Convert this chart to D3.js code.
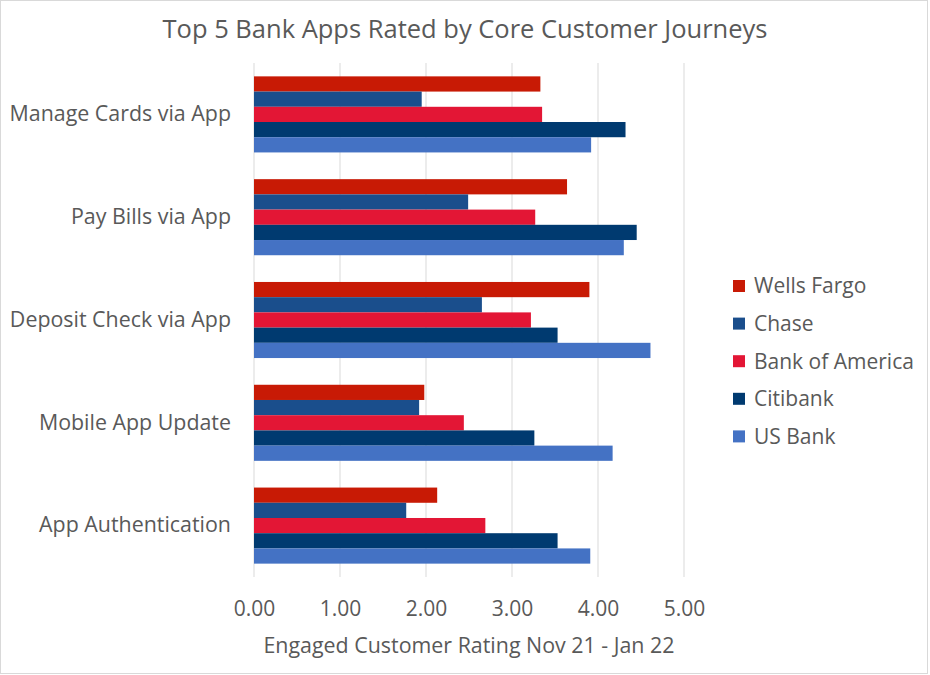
<!DOCTYPE html>
<html>
<head>
<meta charset="utf-8">
<script src="https://cdn.jsdelivr.net/npm/d3@7"></script>
<style>
  body { margin: 0; background: #fff; }
  text { font-family: "Open Sans", sans-serif; fill: #595959; }
</style>
</head>
<body>
<div id="chart"></div>
<script>
// categories top to bottom
var categories = ["Manage Cards via App", "Pay Bills via App", "Deposit Check via App", "Mobile App Update", "App Authentication"];
var seriesNames = ["Wells Fargo", "Chase", "Bank of America", "Citibank", "US Bank"];
var seriesColors = ["#C81A05", "#1A4E8C", "#E31635", "#003A70", "#4472C4"];

// values per category, in same order as categories
var wellsFargo    = [3.33, 3.64, 3.90, 1.98, 2.13];
var chase         = [1.95, 2.49, 2.65, 1.92, 1.77];
var bankOfAmerica = [3.35, 3.27, 3.22, 2.44, 2.69];
var citibank      = [4.32, 4.45, 3.53, 3.26, 3.53];
var usBank        = [3.92, 4.30, 4.61, 4.17, 3.91];

var tickValues = [0, 1, 2, 3, 4, 5];
var xTitle = "Engaged Customer Rating Nov 21 - Jan 22";
var chartTitle = "Top 5 Bank Apps Rated by Core Customer Journeys";

var allSeries = [wellsFargo, chase, bankOfAmerica, citibank, usBank];

var svgWidth = 930, svgHeight = 675;
var margin = {top: 63, left: 254, right: 246, bottom: 98};
var width = svgWidth - margin.left - margin.right;
var height = svgHeight - margin.top - margin.bottom;

var svg = d3.select("#chart").append("svg")
  .attr("width", svgWidth)
  .attr("height", svgHeight);

// outer frame
svg.append("rect")
  .attr("x", 0.5).attr("y", 0.5)
  .attr("width", svgWidth - 3).attr("height", svgHeight - 2)
  .attr("fill", "none").attr("stroke", "#d9d9d9");

var g = svg.append("g").attr("transform", "translate(" + margin.left + "," + margin.top + ")");

var xScale = d3.scaleLinear().domain([0, 5]).range([0, width]);
var yScale = d3.scaleBand().domain(categories).range([0, height]).paddingInner(0.26).paddingOuter(0.13);
var ySub = d3.scaleBand().domain(seriesNames).range([0, yScale.bandwidth()]);

// gridlines
g.selectAll(".grid")
  .data(tickValues)
  .enter().append("line")
  .attr("x1", function(d) { return xScale(d); })
  .attr("x2", function(d) { return xScale(d); })
  .attr("y1", 0).attr("y2", height)
  .attr("stroke", "#d9d9d9").attr("stroke-width", 1);

// bars
categories.forEach(function(cat, ci) {
  seriesNames.forEach(function(s, si) {
    g.append("rect")
      .attr("x", xScale(0))
      .attr("y", yScale(cat) + ySub(s))
      .attr("width", xScale(allSeries[si][ci]) - xScale(0))
      .attr("height", ySub.bandwidth())
      .attr("fill", seriesColors[si]);
  });
});

// x axis labels
var xAxis = g.append("g")
  .attr("transform", "translate(0," + height + ")")
  .call(d3.axisBottom(xScale).tickValues(tickValues).tickFormat(d3.format(".2f")).tickSize(0).tickPadding(24));
xAxis.select(".domain").remove();
xAxis.selectAll("text").style("font-size", "21px").style("font-family", "Open Sans, sans-serif").attr("fill", "#595959");

// y axis labels
var yAxis = g.append("g")
  .call(d3.axisLeft(yScale).tickSize(0).tickPadding(23));
yAxis.select(".domain").remove();
yAxis.selectAll("text").style("font-size", "21.4px").style("font-family", "Open Sans, sans-serif").attr("fill", "#595959");

// axis title
svg.append("text")
  .attr("x", margin.left + width / 2)
  .attr("y", 653)
  .attr("text-anchor", "middle")
  .style("font-size", "21.4px")
  .text(xTitle);

// chart title
svg.append("text")
  .attr("x", 465)
  .attr("y", 38)
  .attr("text-anchor", "middle")
  .style("font-size", "25.5px")
  .text(chartTitle);

// legend
var legend = svg.append("g").attr("transform", "translate(733,286)");
seriesNames.forEach(function(s, i) {
  var row = legend.append("g").attr("transform", "translate(0," + (i * 37.6) + ")");
  row.append("rect")
    .attr("x", 0).attr("y", -6)
    .attr("width", 12).attr("height", 12)
    .attr("fill", seriesColors[i]);
  row.append("text")
    .attr("x", 21).attr("y", 0)
    .attr("dy", "0.35em")
    .style("font-size", "21px")
    .text(s);
});
</script>
</body>
</html>
